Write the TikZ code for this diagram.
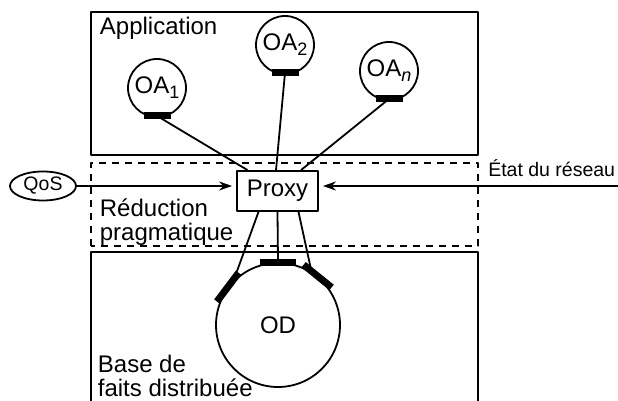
\documentclass[tikz,border=0pt]{standalone}
\usepackage{fontspec}
\setmainfont{Liberation Sans}
\usetikzlibrary{arrows.meta,calc,positioning,shapes.geometric}
\newcommand\oaidx[1]{\raisebox{-5pt}{\fontsize{18}{18}\selectfont#1}}

\begin{document}
\begin{tikzpicture}[
	x=1pt,y=1pt,
	>={Stealth[length=13pt,width=9pt]},
	line width=1.8pt,
	line join=round,
	big/.style={font=\fontsize{24}{26}\selectfont},
	small/.style={font=\fontsize{19.5}{22}\selectfont},
	txt/.style={inner sep=0pt,anchor=base west},
	oa/.style={draw,circle,minimum size=58pt,inner sep=0pt,big},
	bar/.style={line width=7pt,line cap=butt},
	zone/.style={dash pattern=on 7pt off 6pt}
	]
	\useasboundingbox (0,0) rectangle (618,401);
	\draw (91,246) rectangle (478,389);
	\draw[zone] (91,155) rectangle (478,238);
	\draw (91,0) |- (478,149) -- (478,0);

	\node[txt,big] (app) at (99,366) {Application};
	\node[txt,big] (red1) at (99,184) {Réduction};
	\node[txt,big] (red2) at ([yshift=-24pt]red1.base west) {pragmatique};
	\node[txt,big] (base1) at (97,28) {Base de};
	\node[txt,big] (base2) at ([yshift=-24pt]base1.base west) {faits distribuée};

	\node[oa] (oa1) at (157,313) {OA\oaidx{1}};
	\node[oa] (oa2) at (285,356) {OA\oaidx{2}};
	\node[oa] (oan) at (389,330) {OA\oaidx{\itshape n}};
	\coordinate (b1) at ([yshift=2pt]oa1.south);
	\coordinate (b2) at ([yshift=2pt]oa2.south);
	\coordinate (bn) at ([yshift=2pt]oan.south);

	\node[draw,big,minimum width=81pt,minimum height=40pt,inner sep=0pt] (proxy) at (277.5,210) {Proxy};
	\node[draw,ellipse,small,minimum width=66pt,minimum height=29pt,inner sep=0pt] (qos) at (43,215) {QoS};
	\node[small,inner sep=0pt,anchor=base east] (etat) at (616,224) {État du réseau};
	\coordinate (net) at (618,215);

	\node[draw,circle,minimum size=124pt,inner sep=0pt,big] (od) at (278,76) {OD};
	\coordinate (odt) at (od.north);
	\coordinate (odl) at (od.143);
	\coordinate (odr) at (od.51);

	\draw (b1) -- ($(proxy.north)+(-30,0)$);
	\draw (b2) -- ($(proxy.north)+(-1.5,0)$);
	\draw (bn) -- ($(proxy.north)+(23.5,0)$);
	\draw ($(proxy.south)+(-19,0)$) -- ($(odl)+(53:11)$);
	\draw (proxy.south) -- (odt);
	\draw ($(proxy.south)+(21,0)$) -- ($(odr)+(141:8)$);

	\begin{scope}[->,shorten >=4pt]
		\draw (qos.east) -- (qos.east -| proxy.west);
		\draw (net) -- (net -| proxy.east);
	\end{scope}

	\draw[bar] ($(b1)+(-13.5,0)$) -- ($(b1)+(13.5,0)$);
	\draw[bar] ($(b2)+(-13.5,0)$) -- ($(b2)+(13.5,0)$);
	\draw[bar] ($(bn)+(-13.5,0)$) -- ($(bn)+(13.5,0)$);
	\draw[bar] ($(odt)+(-18,0)$) -- ($(odt)+(18,0)$);
	\draw[bar] ($(odl)+(53:18)$) -- ($(odl)+(233:18)$);
	\draw[bar] ($(odr)+(141:18)$) -- ($(odr)+(-39:18)$);
\end{tikzpicture}
\end{document}
